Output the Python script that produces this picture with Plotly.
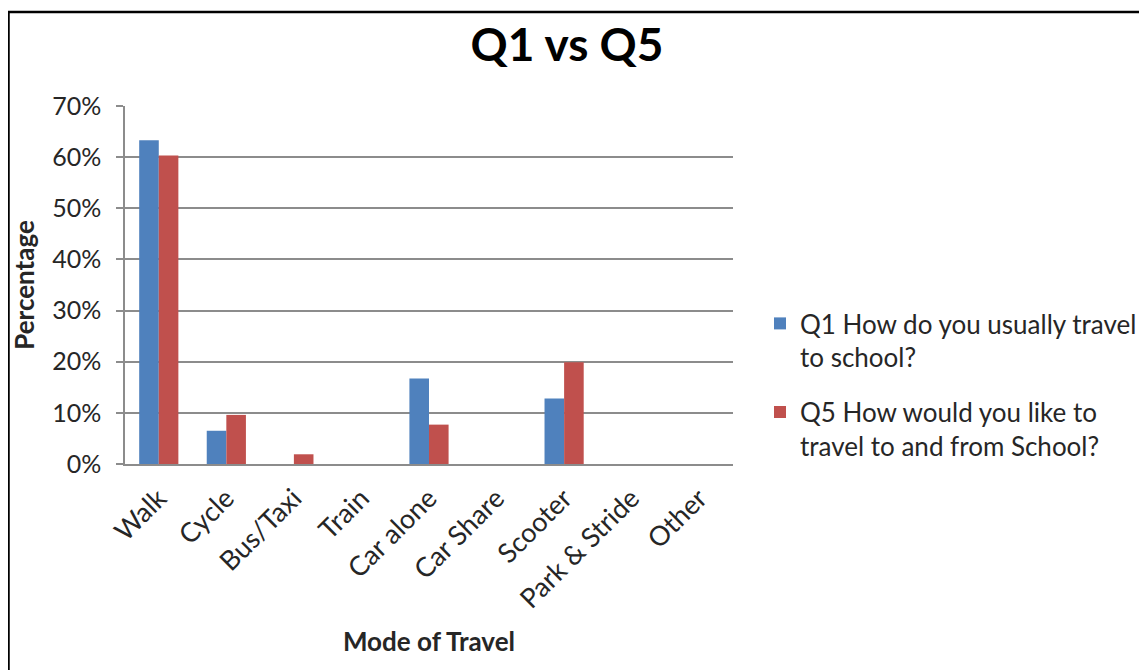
import plotly.graph_objects as go

categories = ["Walk", "Cycle", "Bus/Taxi", "Train", "Car alone", "Car Share",
              "Scooter", "Park & Stride", "Other"]
q1_values = [0.633, 0.065, 0.0, 0.0, 0.167, 0.0, 0.128, 0.0, 0.0]
q5_values = [0.603, 0.096, 0.019, 0.0, 0.077, 0.0, 0.199, 0.0, 0.0]
q1_name = "Q1 How do you usually travel<br>to school?"
q5_name = "Q5 How would you like to<br>travel to and from School?"
y_ticks = [0, 0.1, 0.2, 0.3, 0.4, 0.5, 0.6, 0.7]
y_tick_labels = ["0%", "10%", "20%", "30%", "40%", "50%", "60%", "70%"]

FONT = "Lato"
GRID = "#8c8c8c"
TXT = "#262626"

fig = go.Figure()
fig.add_trace(go.Bar(x=categories, y=q1_values, name=q1_name,
                     marker=dict(color="#4F81BD", line=dict(width=0)),
                     legendgroup="q1"))
fig.add_trace(go.Bar(x=categories, y=q5_values, name=q5_name,
                     marker=dict(color="#C0504D", line=dict(width=0)),
                     legendgroup="q5"))

# page body adds an 8px margin, so figure coords = screen coords - 8
W, H = 1139, 662
L, R, T, B = 117, 725, 98, 456
pw, ph = R - L, B - T

def px(x):
    return (x - L) / pw

def py(y):
    return (B - y) / ph

fig.update_layout(
    width=W, height=H,
    margin=dict(l=L, r=W - R, t=T, b=H - B, autoexpand=False),
    paper_bgcolor="white", plot_bgcolor="white",
    barmode="group", bargap=0.42, bargroupgap=0,
    font=dict(family=FONT, size=24, color=TXT),
    title=dict(text="<b>Q1 vs Q5</b>", x=559 / W, xanchor="center",
               y=1 - 37 / H, yanchor="middle", xref="container", yref="container",
               font=dict(family=FONT, size=46, color="black")),
    showlegend=True,
    legend=dict(xref="container", yref="container", x=752 / W, y=1 - 292 / H,
                xanchor="left", yanchor="top", valign="top",
                font=dict(family=FONT, size=26, color=TXT),
                tracegroupgap=18, bgcolor="rgba(0,0,0,0)"),
    xaxis=dict(showline=True, linecolor=GRID, linewidth=1.5, ticks="",
               tickangle=-45, ticklabelstandoff=6,
               tickfont=dict(family=FONT, size=27, color=TXT),
               title=dict(text="<b>Mode of Travel</b>", standoff=20,
                          font=dict(family=FONT, size=26, color=TXT)),
               automargin=False),
    yaxis=dict(range=[0, 0.7], tickvals=y_ticks, ticktext=y_tick_labels,
               showline=True, linecolor=GRID, linewidth=1.5,
               showgrid=True, gridcolor=GRID, gridwidth=1.5,
               ticks="outside", ticklen=7, tickcolor=GRID, tickwidth=1.5,
               ticklabelstandoff=10,
               tickfont=dict(family=FONT, size=25, color=TXT),
               title=dict(text="<b>Percentage</b>", standoff=10,
                          font=dict(family=FONT, size=26, color=TXT)),
               automargin=False, zeroline=False),
    shapes=[
        dict(type="line", xref="paper", yref="paper", x0=px(0), x1=px(W + 5),
             y0=py(4), y1=py(4), line=dict(color="black", width=2.5)),
        dict(type="line", xref="paper", yref="paper", x0=px(0.5), x1=px(0.5),
             y0=py(4), y1=py(H + 10), line=dict(color="black", width=2.5)),
    ],
)

fig.write_html("out.html")
